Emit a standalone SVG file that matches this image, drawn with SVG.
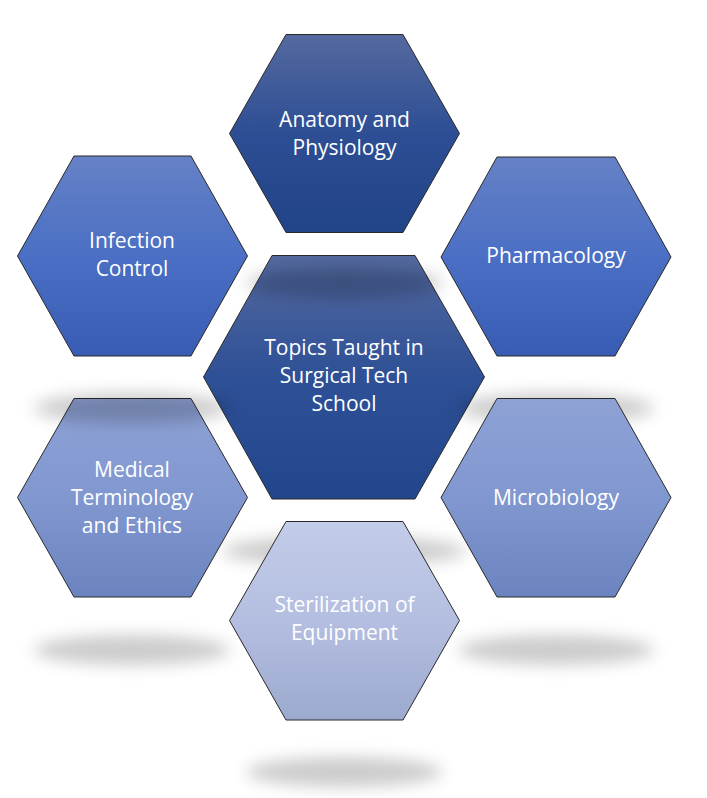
<svg xmlns="http://www.w3.org/2000/svg" width="707" height="798" viewBox="0 0 707 798">
<defs>
<style>
.hex{stroke:#2a2a2a;stroke-width:1}
.lbl{font-family:"Open Sans","Liberation Sans",sans-serif;font-size:21px;fill:#ffffff;text-anchor:middle}
.sh{fill:#000;fill-opacity:0.2;filter:url(#blur)}
</style>
<filter id="blur" x="-50%" y="-200%" width="200%" height="500%"><feGaussianBlur stdDeviation="8"/></filter>
<linearGradient id="gDark" x1="0" y1="0" x2="0" y2="1"><stop offset="0" stop-color="#54699F"/><stop offset="0.5" stop-color="#2D4E94"/><stop offset="1" stop-color="#214387"/></linearGradient>
<linearGradient id="gCenter" x1="0" y1="0" x2="0" y2="1"><stop offset="0" stop-color="#54699F"/><stop offset="0.5" stop-color="#2E5096"/><stop offset="1" stop-color="#22468C"/></linearGradient>
<linearGradient id="gMid" x1="0" y1="0" x2="0" y2="1"><stop offset="0" stop-color="#6681C6"/><stop offset="0.5" stop-color="#4A6FC4"/><stop offset="1" stop-color="#385CB3"/></linearGradient>
<linearGradient id="gLight" x1="0" y1="0" x2="0" y2="1"><stop offset="0" stop-color="#8EA2D5"/><stop offset="0.5" stop-color="#8197D0"/><stop offset="1" stop-color="#6B84BF"/></linearGradient>
<linearGradient id="gPale" x1="0" y1="0" x2="0" y2="1"><stop offset="0" stop-color="#C3CCE8"/><stop offset="0.5" stop-color="#B4BEE0"/><stop offset="1" stop-color="#9CAACF"/></linearGradient>
</defs>
<rect width="707" height="798" fill="#ffffff"/>
<g id="connectors"></g>
<g id="center">
<ellipse class="sh" cx="344" cy="551" rx="122" ry="15"/>
<polygon class="hex" fill="url(#gCenter)" points="272,255.5 415,255.5 484.5,377 415,499 272,499 203.5,377"/>
<text class="lbl" x="344" y="355">Topics Taught in</text>
<text class="lbl" x="344" y="383">Surgical Tech</text>
<text class="lbl" x="344" y="411">School</text>
</g>
<g id="anatomy">
<ellipse class="sh" cx="344.5" cy="283" rx="98" ry="15"/>
<polygon class="hex" fill="url(#gDark)" points="286,34.5 403,34.5 459.5,133.5 403,232.5 286,232.5 229.5,133.5"/>
<text class="lbl" x="344.5" y="127">Anatomy and</text>
<text class="lbl" x="344.5" y="155">Physiology</text>
</g>
<g id="pharmacology">
<ellipse class="sh" cx="556" cy="408" rx="98" ry="15"/>
<polygon class="hex" fill="url(#gMid)" points="497,157 615,157 671,257 615,356 497,356 441,257"/>
<text class="lbl" x="556" y="263">Pharmacology</text>
</g>
<g id="microbiology">
<ellipse class="sh" cx="556" cy="650" rx="98" ry="15"/>
<polygon class="hex" fill="url(#gLight)" points="497,398.5 615,398.5 671,497.5 615,597 497,597 441,497.5"/>
<text class="lbl" x="556" y="505">Microbiology</text>
</g>
<g id="sterilization">
<ellipse class="sh" cx="344.5" cy="772" rx="98" ry="15"/>
<polygon class="hex" fill="url(#gPale)" points="286,521.5 403,521.5 459.5,620.5 403,720 286,720 229.5,620.5"/>
<text class="lbl" x="344.5" y="612">Sterilization of</text>
<text class="lbl" x="344.5" y="640">Equipment</text>
</g>
<g id="medical">
<ellipse class="sh" cx="132" cy="650" rx="98" ry="15"/>
<polygon class="hex" fill="url(#gLight)" points="74,398.5 191,398.5 247.5,497.5 191,597 74,597 17.5,497.5"/>
<text class="lbl" x="132" y="477">Medical</text>
<text class="lbl" x="132" y="505">Terminology</text>
<text class="lbl" x="132" y="533">and Ethics</text>
</g>
<g id="infection">
<ellipse class="sh" cx="132" cy="408" rx="98" ry="15"/>
<polygon class="hex" fill="url(#gMid)" points="74,156 191,156 247.5,256 191,356 74,356 17.5,256"/>
<text class="lbl" x="132" y="248">Infection</text>
<text class="lbl" x="132" y="276">Control</text>
</g>
</svg>
